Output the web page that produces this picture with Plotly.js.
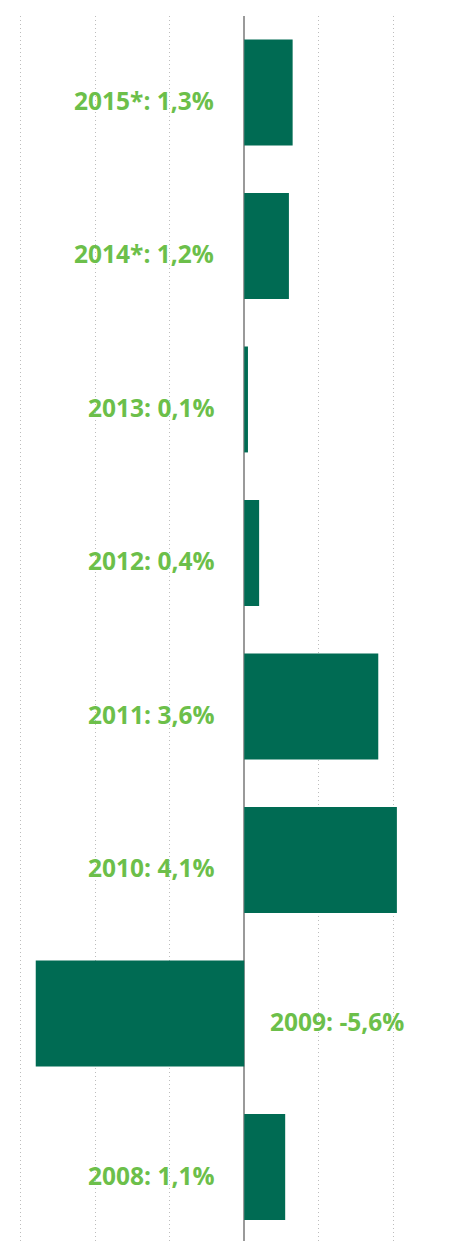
<!DOCTYPE html>
<html>
<head>
<meta charset="utf-8">
<script src="https://cdn.plot.ly/plotly-3.0.1.min.js"></script>
<style>html,body{margin:0;padding:0;background:#fff;}#chart{width:468px;height:1241px;}</style>
</head>
<body>
<div id="chart"></div>
<script>
var years = ["2008", "2009", "2010", "2011", "2012", "2013", "2014*", "2015*"];
var growth = [1.1, -5.6, 4.1, 3.6, 0.4, 0.1, 1.2, 1.3];
var labels = ["2008: 1,1%", "2009: -5,6%", "2010: 4,1%", "2011: 3,6%", "2012: 0,4%", "2013: 0,1%", "2014*: 1,2%", "2015*: 1,3%"];

var annotations = years.map(function (y, i) {
  var neg = growth[i] < 0;
  return {
    x: 0, y: i, xref: 'x', yref: 'y',
    text: labels[i], showarrow: false,
    xanchor: neg ? 'left' : 'right',
    xshift: neg ? 24 : -28,
    yshift: -8,
    font: {family: 'Open Sans, sans-serif', size: 24.5, color: '#6cbf4a', weight: 700}
  };
});

Plotly.newPlot('chart', [{
  type: 'bar', orientation: 'h',
  y: years, x: growth,
  width: 0.69,
  marker: {color: '#006b53'},
  hoverinfo: 'none'
}], {
  width: 468, height: 1241,
  margin: {l: 0, r: 0, t: 16, b: 0},
  paper_bgcolor: '#ffffff', plot_bgcolor: '#ffffff',
  showlegend: false,
  xaxis: {
    range: [-6.56, 6.01], dtick: 2, tick0: 0,
    showticklabels: false, ticks: '',
    showgrid: true, gridcolor: '#bdbdbd', gridwidth: 1, griddash: '1px,3px',
    zeroline: true, zerolinecolor: '#9a9a9a', zerolinewidth: 1.5,
    showline: false, fixedrange: true
  },
  yaxis: {
    type: 'category', range: [-0.482, 7.498],
    showticklabels: false, ticks: '', showgrid: false, zeroline: false,
    showline: false, fixedrange: true
  },
  annotations: annotations
}, {staticPlot: true, displayModeBar: false});
</script>
</body>
</html>
